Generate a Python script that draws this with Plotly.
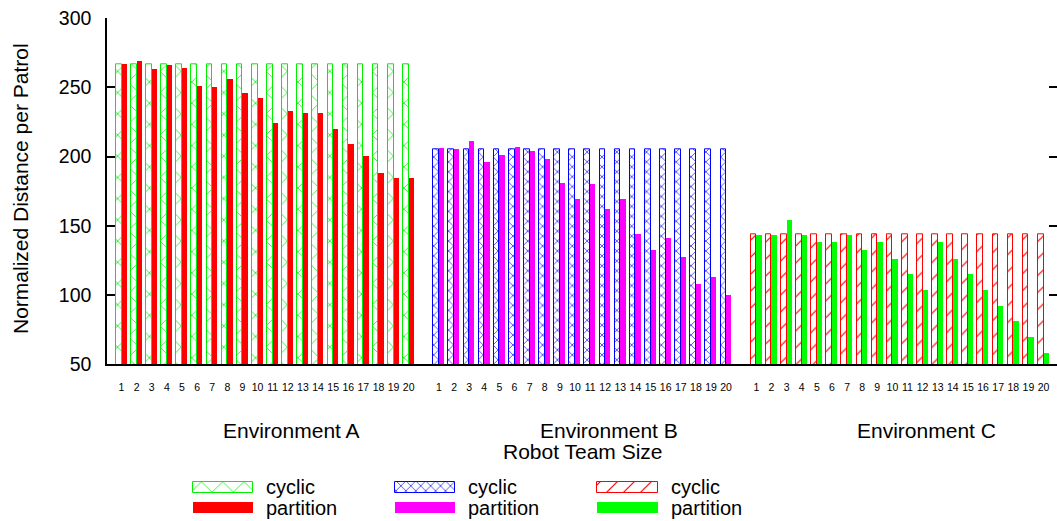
import plotly.graph_objects as go

# ---------------- data ----------------
team_size_labels = ["1", "2", "3", "4", "5", "6", "7", "8", "9", "10",
                    "11", "12", "13", "14", "15", "16", "17", "18", "19", "20"]
environments = ["Environment A", "Environment B", "Environment C"]

cyclic_A = [267, 267, 267, 267, 267, 267, 267, 267, 267, 267,
            267, 267, 267, 267, 267, 267, 267, 267, 267, 267]
partition_A = [267, 269, 263, 266, 264, 251, 250, 256, 246, 242,
               224, 233, 231, 231, 220, 209, 200, 188, 184, 184]

cyclic_B = [205.5, 205.5, 205.5, 205.5, 205.5, 205.5, 205.5, 205.5, 205.5, 205.5,
            205.5, 205.5, 205.5, 205.5, 205.5, 205.5, 205.5, 205.5, 205.5, 205.5]
partition_B = [206, 205, 211, 196, 201, 207, 204, 198, 181, 169,
               180, 162, 169, 144, 132, 141, 127, 108, 113, 100]

cyclic_C = [143.5, 143.5, 143.5, 143.5, 143.5, 143.5, 143.5, 143.5, 143.5, 143.5,
            143.5, 143.5, 143.5, 143.5, 143.5, 143.5, 143.5, 143.5, 143.5, 143.5]
partition_C = [143, 143, 154, 143, 138, 138, 143, 132, 138, 126,
               115, 103, 138, 126, 115, 103, 92, 81, 69, 58]

y_ticks = [50, 100, 150, 200, 250, 300]

# ---------------- styling ----------------
W, H = 1057, 521
FONT = "Liberation Sans, Arial, Helvetica, sans-serif"
GREEN, BLUE, RED, MAGENTA = "#00f000", "#0000ff", "#ff0000", "#ff00ff"

cyclic_styles = [
    dict(line=GREEN, shape="x", size=15, solidity=0.1),
    dict(line=BLUE, shape="x", size=7, solidity=0.18),
    dict(line=RED, shape="/", size=12, solidity=0.1),
]
partition_colors = [RED, MAGENTA, "#00ff00"]
cyclic_series = [cyclic_A, cyclic_B, cyclic_C]
partition_series = [partition_A, partition_B, partition_C]

GROUP_GAP = 21  # slots per environment block (20 sizes + 1 empty slot)
fig = go.Figure()

tickvals, ticktext = [], []
for e in range(3):
    xs = [e * GROUP_GAP + i for i in range(len(team_size_labels))]
    tickvals += xs
    ticktext += team_size_labels
    st = cyclic_styles[e]
    fig.add_trace(go.Bar(
        x=xs, y=cyclic_series[e], width=0.37, offset=-0.37,
        name="cyclic", showlegend=False,
        marker=dict(color="white", line=dict(color=st["line"], width=1),
                    pattern=dict(shape=st["shape"], fgcolor=st["line"], bgcolor="white",
                                 size=st["size"], solidity=st["solidity"], fillmode="replace")),
    ))
    fig.add_trace(go.Bar(
        x=xs, y=partition_series[e], width=0.35, offset=0.0,
        name="partition", showlegend=False,
        marker=dict(color=partition_colors[e], line=dict(width=0)),
    ))

# dummy trace for right-hand mirrored ticks
fig.add_trace(go.Scatter(x=[None], y=[None], yaxis="y2", showlegend=False, hoverinfo="skip"))

# ---------------- custom legend (pattern swatches on a helper axis) ----------------
leg_cols_x = [192.7, 394.5, 597.0]
sw_w = 60.5
for e in range(3):
    st = cyclic_styles[e]
    fig.add_trace(go.Bar(
        orientation="h", y=[487.3], x=[sw_w], base=[leg_cols_x[e]], width=10.7,
        xaxis="x3", yaxis="y3", showlegend=False, hoverinfo="skip",
        marker=dict(color="white", line=dict(color=st["line"], width=1),
                    pattern=dict(shape=st["shape"], fgcolor=st["line"], bgcolor="white",
                                 size=st["size"], solidity=st["solidity"], fillmode="replace")),
    ))
    fig.add_trace(go.Bar(
        orientation="h", y=[507.8], x=[sw_w], base=[leg_cols_x[e]], width=11,
        xaxis="x3", yaxis="y3", showlegend=False, hoverinfo="skip",
        marker=dict(color=partition_colors[e], line=dict(width=0)),
    ))
    for txt, yy in (("cyclic", 487.0), ("partition", 508.0)):
        fig.add_annotation(x=(leg_cols_x[e] + sw_w + 12) / W, y=1 - yy / H,
                           xref="paper", yref="paper", borderpad=0,
                           text=txt, showarrow=False, xanchor="left", yanchor="middle",
                           font=dict(size=20, color="black", family=FONT))

# ---------------- axes / layout ----------------
x_left_px, x_right_px = 107, 1057
y_top_px, y_bot_px = 18.3, 364

fig.update_layout(
    width=W, height=H,
    margin=dict(l=0, r=0, t=0, b=0, autoexpand=False),
    paper_bgcolor="white", plot_bgcolor="rgba(0,0,0,0)",
    barmode="overlay", bargap=0,
    font=dict(family=FONT, color="black"),
    xaxis=dict(domain=[x_left_px / W, x_right_px / W], range=[-0.96, 61.89],
               tickmode="array", tickvals=tickvals, ticktext=ticktext,
               tickfont=dict(size=10.5), ticks="", ticklabelstandoff=12,
               showline=True, linecolor="black", linewidth=2, showgrid=False,
               zeroline=False, fixedrange=True, automargin=False),
    yaxis=dict(domain=[(H - y_bot_px) / H, (H - y_top_px) / H], range=[50, 300],
               tickmode="array", tickvals=y_ticks, tickfont=dict(size=19.5),
               ticks="inside", ticklen=8, tickwidth=1.5, tickcolor="black",
               ticklabelstandoff=10,
               showline=True, linecolor="black", linewidth=1.5, showgrid=False,
               zeroline=False, fixedrange=True, automargin=False),
    yaxis2=dict(overlaying="y", side="right", anchor="x", range=[50, 300],
                tickmode="array", tickvals=y_ticks, showticklabels=False,
                ticks="inside", ticklen=8, tickwidth=1.5, tickcolor="black",
                showline=False, showgrid=False, zeroline=False, fixedrange=True),
    xaxis3=dict(domain=[0, 1], range=[0, W], anchor="y3", visible=False, fixedrange=True),
    yaxis3=dict(domain=[0, 50 / H], range=[H, H - 50], anchor="x3", visible=False, fixedrange=True),
    showlegend=False,
)

# environment labels and axis titles
env_label_px = [291, 608.5, 926]
for name, px in zip(environments, env_label_px):
    fig.add_annotation(x=px / W, y=1 - 430 / H, xref="paper", yref="paper", text=name,
                       showarrow=False, xanchor="center", yanchor="middle",
                       font=dict(size=21, color="black", family=FONT))
fig.add_annotation(x=583 / W, y=1 - 451 / H, xref="paper", yref="paper", text="Robot Team Size",
                   showarrow=False, xanchor="center", yanchor="middle",
                   font=dict(size=21, color="black", family=FONT))
fig.add_annotation(x=20 / W, y=1 - 189 / H, xref="paper", yref="paper",
                   text="Normalized Distance per Patrol", textangle=-90,
                   showarrow=False, xanchor="center", yanchor="middle",
                   font=dict(size=21, color="black", family=FONT))

fig.write_html("out.html", config={"displayModeBar": False},
               post_script="document.body.style.margin='0';document.body.style.overflow='hidden';")
